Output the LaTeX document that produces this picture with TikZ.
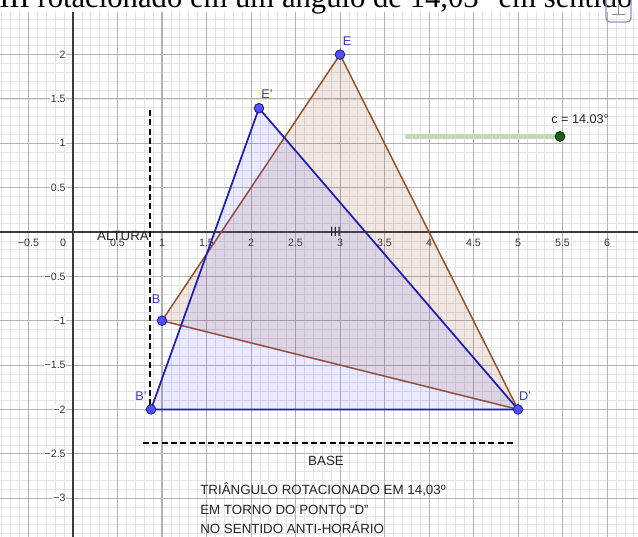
\documentclass[tikz,border=0pt]{standalone}
\usepackage{fontspec}
\setmainfont{Liberation Serif}
\setsansfont{Liberation Sans}
\definecolor{minorg}{RGB}{228,228,228}
\definecolor{majorg}{RGB}{178,178,178}
\definecolor{axisc}{RGB}{60,60,60}
\definecolor{brownl}{RGB}{153,77,38}
\definecolor{bluel}{RGB}{30,30,180}
\definecolor{bluefill}{RGB}{77,77,255}
\definecolor{ptfill}{RGB}{80,80,255}
\definecolor{ptdraw}{RGB}{25,25,120}
\definecolor{lblblue}{RGB}{60,60,190}
\definecolor{slidel}{RGB}{196,218,182}
\definecolor{slidep}{RGB}{20,100,20}
\definecolor{iconc}{RGB}{150,140,205}
\tikzset{
  minorgrid/.style={draw=minorg, line width=0.5pt},
  majorgrid/.style={draw=majorg, line width=0.75pt},
  axisline/.style={draw=axisc, line width=0.8pt},
  axlbl/.style={font=\sffamily\fontsize{8}{8}\selectfont, text=black!80, inner sep=0.5pt},
  tribrown/.style={draw=brownl, line width=1.1pt, fill=brownl, fill opacity=0.13, line join=round},
  triblue/.style={draw=bluel, line width=1.3pt, fill=bluefill, fill opacity=0.12, line join=round},
  ptdot/.style={draw=ptdraw, fill=ptfill, line width=0.6pt},
  ptlbl/.style={font=\sffamily\fontsize{9.5}{9.5}\selectfont, text=lblblue, inner sep=0pt},
  dashline/.style={draw=black, line width=1.4pt, dash pattern=on 4.5pt off 2.5pt},
  txt/.style={font=\sffamily\fontsize{10}{10}\selectfont, text=black!85, inner sep=0pt},
}
\begin{document}
\begin{tikzpicture}[x=66.75pt,y=66.525pt]
\useasboundingbox (-0.8202,-3.4385) rectangle (6.3483,2.6156);
\clip (-0.8202,-3.4385) rectangle (6.3483,2.6156);
\fill[white] (-0.8202,-3.4385) rectangle (6.3483,2.6156);
% grid
\draw[minorgrid] (-0.8202,-3.4385) grid[step=0.1] (6.3483,2.4803);
\draw[majorgrid] (-0.8202,-3.4385) grid[step=0.5] (6.3483,2.4803);
\draw[axisline] (-0.8202,0) -- (6.3483,0);
\draw[axisline] (0,-3.4385) -- (0,2.4803);
% axis labels
\foreach \v/\t in {-0.5/−0.5,0.5/0.5,1/1,1.5/1.5,2/2,2.5/2.5,3/3,3.5/3.5,4/4,4.5/4.5,5/5,5.5/5.5,6/6}
  \node[axlbl] (xl\v) at (\v,-0.12) {\t};
\node[axlbl] (zero) at (-0.11,-0.12) {0};
\foreach \v/\t in {2/2,1.5/1.5,1/1,0.5/0.5,-0.5/−0.5,-1/−1,-1.5/−1.5,-2/−2,-2.5/−2.5,-3/−3}
  \node[axlbl, anchor=east, fill=white, inner sep=0.3pt] (yl\v) at (-0.075,\v) {\t};
% points
\coordinate (B) at (1,-1);
\coordinate (E) at (3,2);
\coordinate (D) at (5,-2);
\coordinate (Bp) at (0.8767,-2);
\coordinate (Ep) at (2.0896,1.3958);
% triangles
\draw[tribrown] (B) -- (E) -- (D) -- cycle;
\draw[triblue] (Bp) -- (Ep) -- (D) -- cycle;
% dashed helper lines
\coordinate (altT) at (0.865,1.375);
\coordinate (altB) at (0.865,-1.97);
\coordinate (baseL) at (0.787,-2.379);
\coordinate (baseR) at (4.98,-2.379);
\draw[dashline] (altT) -- (altB);
\draw[dashline] (baseL) -- (baseR);
% point dots
\foreach \p in {B,E,D,Bp,Ep} \fill[ptdot] (\p) circle (3.6pt);
\node[ptlbl] (lE) at (3.08,2.153) {E};
\node[ptlbl] (lEp) at (2.18,1.556) {E'};
\node[ptlbl] (lB) at (0.933,-0.755) {B};
\node[ptlbl] (lBp) at (0.764,-1.849) {B'};
\node[ptlbl] (lD) at (5.079,-1.849) {D'};
% texts
\node[txt] (altura) at (0.562,-0.045) {ALTURA};
\node[txt] (base) at (2.843,-2.582) {BASE};
\node[txt] (three) at (2.95,0) {III};
\node[txt, anchor=base west] (t1) at (1.427,-2.963) {TRIÂNGULO ROTACIONADO EM 14,03º};
\node[txt, anchor=base west] (t2) at (1.427,-3.188) {EM TORNO DO PONTO “D”};
\node[txt, anchor=base west] (t3) at (1.427,-3.402) {NO SENTIDO ANTI-HORÁRIO};
% slider
\coordinate (sl1) at (3.753,1.077);
\coordinate (sl2) at (5.472,1.077);
\draw[slidel, line width=3.2pt, line cap=round] (sl1) -- (sl2);
\fill[draw=black!70!slidep, fill=slidep, line width=0.6pt] (sl2) circle (3.7pt);
\node[txt, text=black!85, font=\sffamily\fontsize{9.5}{9.5}\selectfont] (clbl) at (5.697,1.274) {c = 14.03°};
% top white band and title
\fill[white] (-0.8202,2.4803) rectangle (6.3483,2.6156);
\node[anchor=base west, inner sep=0pt, font=\rmfamily\fontsize{23}{23}\selectfont] (title) at (-0.8315,2.533) {III rotacionado em um ângulo de 14,03° em sentido};
% icon
\draw[iconc, line width=1pt, rounded corners=3pt] (5.989,2.660) rectangle (6.270,2.367);
\coordinate (ic1) at (6.056,2.457);
\coordinate (ic2) at (6.202,2.457);
\coordinate (ic3) at (6.129,2.457);
\coordinate (ic4) at (6.129,2.570);
\draw[black!45, line width=0.7pt] (ic1) -- (ic2);
\draw[black!45, line width=0.7pt] (ic3) -- (ic4);
\end{tikzpicture}
\end{document}
